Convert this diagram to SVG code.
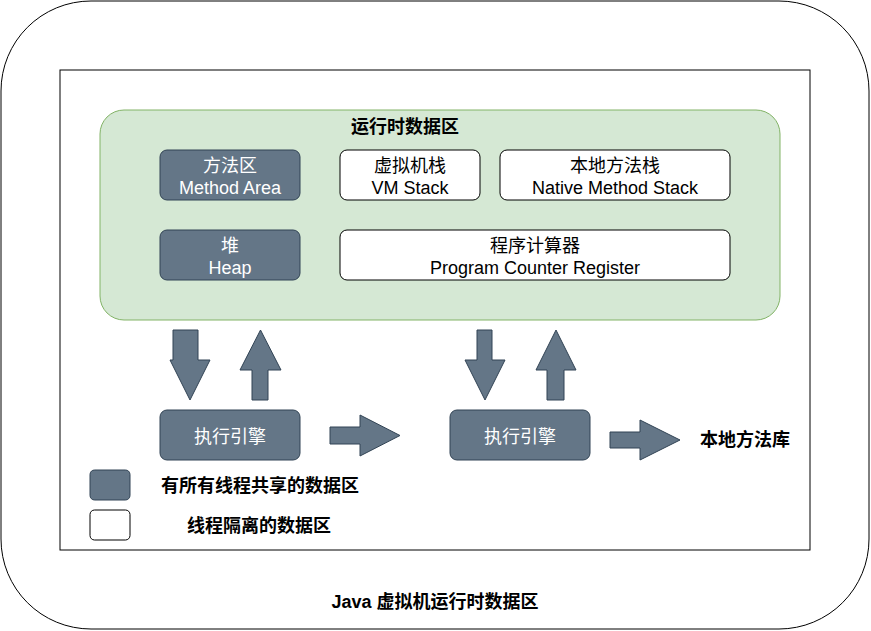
<svg xmlns="http://www.w3.org/2000/svg" width="871" height="631" viewBox="0 0 871 631">
<style>
text{font-family:"Liberation Sans","Noto Sans CJK SC",sans-serif;font-size:18px;text-anchor:middle}
.b{font-weight:bold}
.dark{fill:#647687;stroke:#314354;stroke-width:1}
.light{fill:#ffffff;stroke:#000000;stroke-width:1}
.wt{fill:#ffffff}
.bk{fill:#000000}
.arr{fill:#647687;stroke:#314354;stroke-width:1}
</style>
<rect x="1" y="1" width="868" height="628" rx="90" ry="90" fill="#ffffff" stroke="#000000" stroke-width="1"/>
<rect x="60" y="70" width="750" height="480" fill="#ffffff" stroke="#000000" stroke-width="1"/>
<g id="runtime-area">
<rect x="100" y="110" width="680" height="210" rx="24" ry="24" fill="#d5e8d4" stroke="#82b366" stroke-width="1"/>
<text class="b bk" x="405" y="133">运行时数据区</text>
</g>
<g id="method-area">
<rect class="dark" x="160" y="150" width="140" height="50" rx="7"/>
<text class="wt" x="230" y="172">方法区</text>
<text class="wt" x="230" y="193.5">Method Area</text>
</g>
<g id="vm-stack">
<rect class="light" x="340" y="150" width="140" height="50" rx="7"/>
<text class="bk" x="410" y="172">虚拟机栈</text>
<text class="bk" x="410" y="193.5">VM Stack</text>
</g>
<g id="native-stack">
<rect class="light" x="500" y="150" width="230" height="50" rx="7"/>
<text class="bk" x="615" y="172">本地方法栈</text>
<text class="bk" x="615" y="193.5">Native Method Stack</text>
</g>
<g id="heap">
<rect class="dark" x="160" y="230" width="140" height="50" rx="7"/>
<text class="wt" x="230" y="252">堆</text>
<text class="wt" x="230" y="273.5">Heap</text>
</g>
<g id="pc-register">
<rect class="light" x="340" y="230" width="390" height="50" rx="7"/>
<text class="bk" x="535" y="252">程序计算器</text>
<text class="bk" x="535" y="273.5">Program Counter Register</text>
</g>
<g id="engine1">
<rect class="dark" x="160" y="410" width="140" height="50" rx="7"/>
<text class="wt" x="230" y="443">执行引擎</text>
</g>
<g id="engine2">
<rect class="dark" x="450" y="410" width="140" height="50" rx="7"/>
<text class="wt" x="520" y="443">执行引擎</text>
</g>
<g id="native-lib">
<text class="b bk" x="745" y="446">本地方法库</text>
</g>
<g id="connectors">
<polygon class="arr" points="173,330 198,330 198,360 210,360 190,400 170,360 173,360"/>
<polygon class="arr" points="252,400 268,400 268,370 281,370 260.5,330 240,370 252,370"/>
<polygon class="arr" points="330,427 360,427 360,415 400,435.5 360,456 360,444 330,444"/>
<polygon class="arr" points="477,330 492,330 492,360 505,360 485,400 465,360 477,360"/>
<polygon class="arr" points="547,400 564,400 564,370 576,370 556,330 536,370 547,370"/>
<polygon class="arr" points="610,432 640,432 640,420 680,440 640,460 640,448 610,448"/>
</g>
<g id="legend-shared">
<rect class="dark" x="90" y="470" width="40" height="30" rx="4.5"/>
<text class="b bk" x="260" y="492">有所有线程共享的数据区</text>
</g>
<g id="legend-isolated">
<rect class="light" x="90" y="510" width="40" height="30" rx="4.5"/>
<text class="b bk" x="259" y="532">线程隔离的数据区</text>
</g>
<g id="title">
<text class="b bk" x="435" y="608">Java 虚拟机运行时数据区</text>
</g>
</svg>
